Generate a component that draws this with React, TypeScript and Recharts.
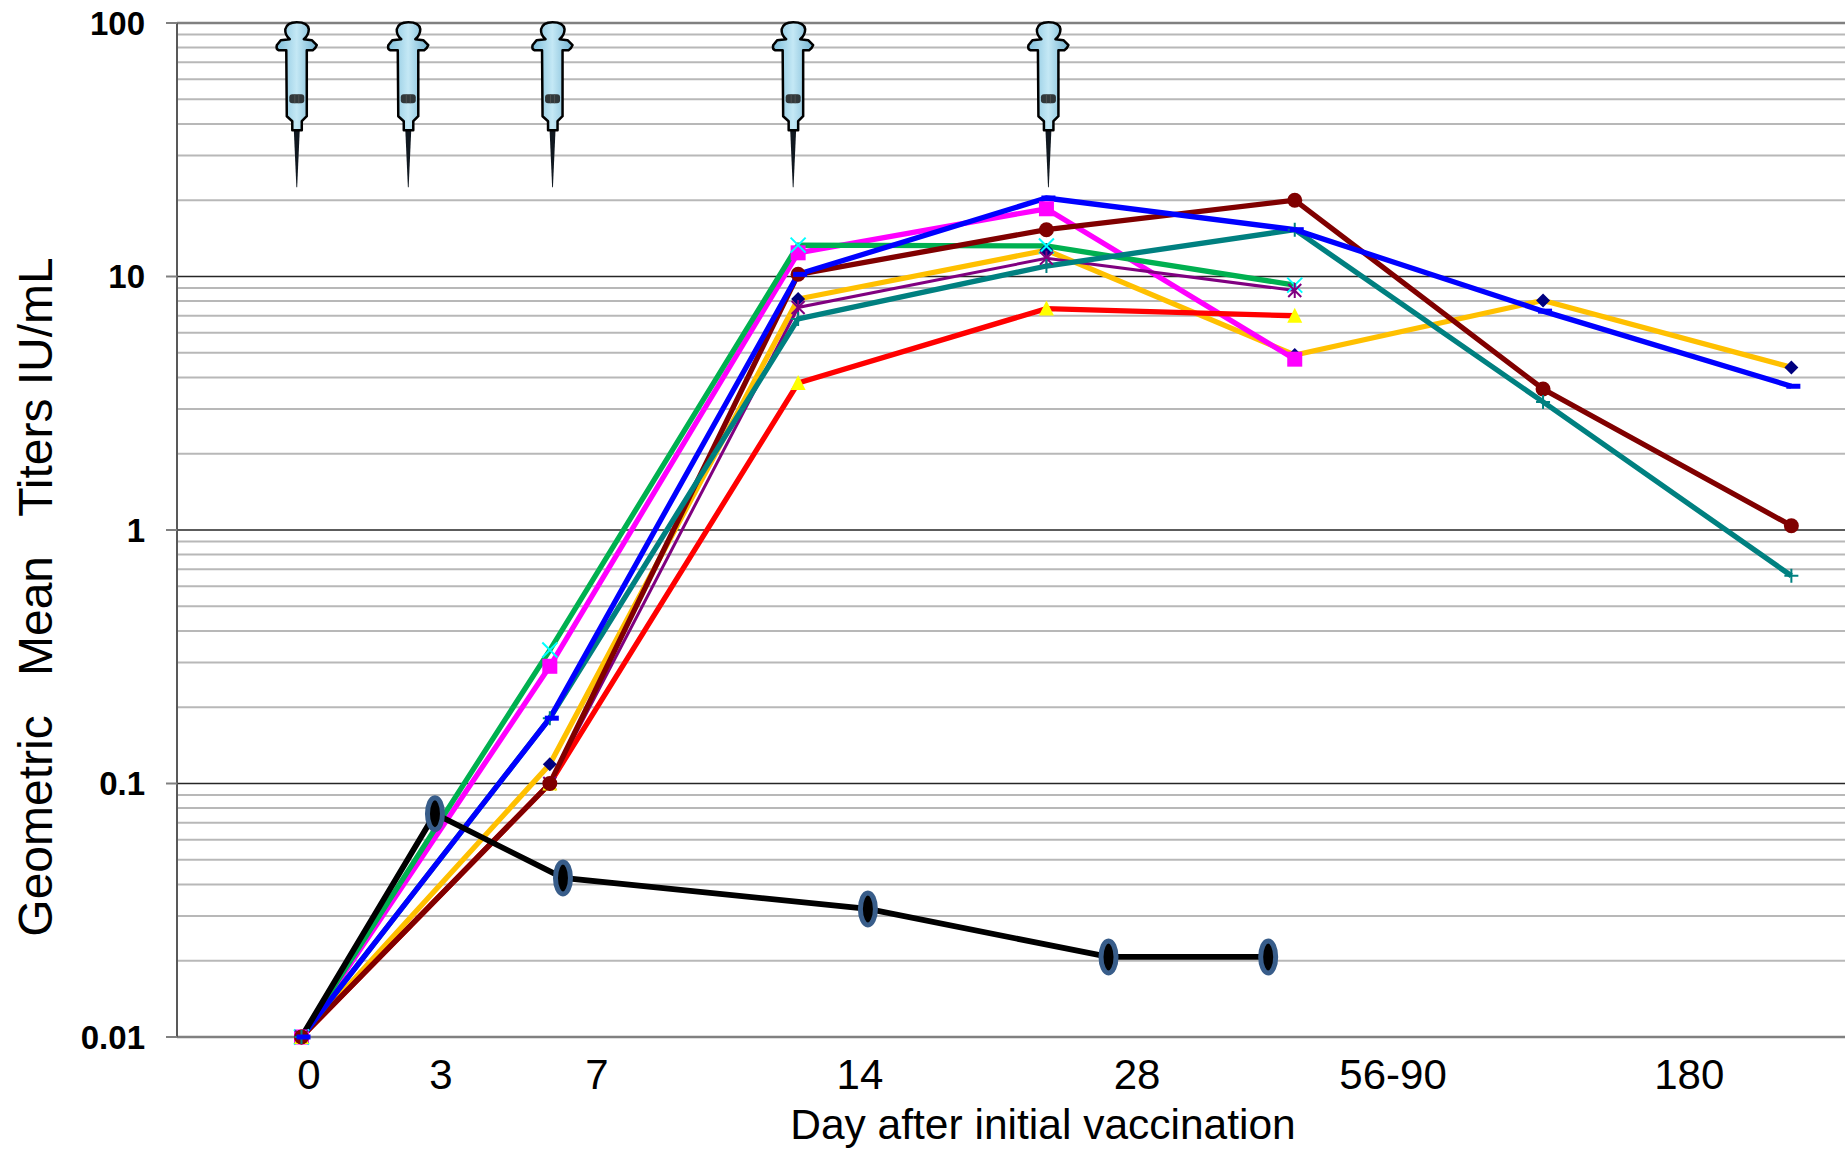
import { CartesianGrid, Line, LineChart, XAxis, YAxis } from "recharts";

const FONT = "'Liberation Sans', Arial, sans-serif";

// x runs in category slots: 0 is the "0" sampling point, 1 slot = one sampling interval
const samplingSlots = [0, 1, 2, 3, 4, 5, 6];

const greenTiters = [0.01, 0.336, 13.3, 13.2, 9.25];
const magentaTiters = [0.01, 0.29, 12.4, 18.5, 4.72];
const blueTiters = [0.01, 0.181, 10.2, 20.4, 15.3, 7.3, 3.69];
const tealTiters = [0.01, 0.181, 6.8, 11, 15.3, 3.2, 0.66];
const orangeTiters = [0.01, 0.119, 8.15, 12.7, 4.9, 8.05, 4.38];
const purpleTiters = [0.01, 0.1, 7.55, 11.8, 8.8];
const maroonTiters = [0.01, 0.1, 10.2, 15.3, 20, 3.6, 1.04];
const redTiters = [0.01, 0.1, 3.8, 7.47, 7.0];

// the control group was drawn by hand, off the slots
const controlSlots = [0, 0.5375, 1.053, 2.281, 3.25, 3.893];
const controlTiters = [0.01, 0.076, 0.0424, 0.032, 0.0207, 0.0207];

const syringeSlots = [-0.019, 0.43, 1.011, 1.98, 3.008];
const syringeTipTiter = 22.5;

const majorTicks = [0.01, 0.1, 1, 10, 100];
const innerMajorTicks = [0.1, 1, 10];
const topTick = [100];
const minorTicks = [
  0.02, 0.03, 0.04, 0.05, 0.06, 0.07, 0.08, 0.09,
  0.2, 0.3, 0.4, 0.5, 0.6, 0.7, 0.8, 0.9,
  2, 3, 4, 5, 6, 7, 8, 9,
  20, 30, 40, 50, 60, 70, 80, 90,
];
const dayTickSlots = [0.03, 0.562, 1.19, 2.249, 3.365, 4.396, 5.589];
const dayTickLabels = ["0", "3", "7", "14", "28", "56-90", "180"];

const zip = (xs: number[], ys: number[]) => ys.map((y, i) => ({ x: xs[i], y }));

type DotProps = { cx?: number; cy?: number; index?: number };

const cross = (color: string) => ({ cx = 0, cy = 0, index }: DotProps) => (
  <path key={index} d={`M${cx - 7.5} ${cy - 7.5}L${cx + 7.5} ${cy + 7.5}M${cx - 7.5} ${cy + 7.5}L${cx + 7.5} ${cy - 7.5}`} stroke={color} strokeWidth={2} fill="none" />
);
const square = (color: string) => ({ cx = 0, cy = 0, index }: DotProps) => (
  <rect key={index} x={cx - 7.5} y={cy - 7.5} width={15} height={15} fill={color} />
);
const dash = (color: string) => ({ cx = 0, cy = 0, index }: DotProps) => (
  <rect key={index} x={cx - 5} y={cy - 2.5} width={14} height={5} fill={color} />
);
const plus = (color: string) => ({ cx = 0, cy = 0, index }: DotProps) => (
  <path key={index} d={`M${cx - 7} ${cy}H${cx + 7}M${cx} ${cy - 7}V${cy + 7}`} stroke={color} strokeWidth={2} fill="none" />
);
const diamond = (color: string) => ({ cx = 0, cy = 0, index }: DotProps) => (
  <path key={index} d={`M${cx} ${cy - 7}L${cx + 7} ${cy}L${cx} ${cy + 7}L${cx - 7} ${cy}Z`} fill={color} />
);
const asterisk = (color: string) => ({ cx = 0, cy = 0, index }: DotProps) => (
  <path key={index} d={`M${cx - 6.5} ${cy - 6.5}L${cx + 6.5} ${cy + 6.5}M${cx - 6.5} ${cy + 6.5}L${cx + 6.5} ${cy - 6.5}M${cx} ${cy - 7.5}V${cy + 7.5}`} stroke={color} strokeWidth={2} fill="none" />
);
const circle = (color: string) => ({ cx = 0, cy = 0, index }: DotProps) => (
  <circle key={index} cx={cx} cy={cy} r={7.5} fill={color} />
);
const triangle = (color: string) => ({ cx = 0, cy = 0, index }: DotProps) => (
  <path key={index} d={`M${cx} ${cy - 8}L${cx + 7.5} ${cy + 7}L${cx - 7.5} ${cy + 7}Z`} fill={color} />
);
const oval = ({ cx = 0, cy = 0, index }: DotProps) =>
  index === 0 ? (
    <g key={index} />
  ) : (
    <ellipse key={index} cx={cx} cy={cy} rx={7.5} ry={16} fill="#000" stroke="#385d8a" strokeWidth={5} />
  );

function Syringe({ cx = 0, cy = 0, index }: DotProps) {
  return (
    <g key={index} transform={`translate(${cx} ${cy})`}>
      <path d="M-3 -58L3 -58L0.4 0L-0.4 0Z" fill="#101820" />
      <path
        d="M-4.5 -57L-4.5 -66L-10 -71L-10.5 -137L-18 -137Q-21 -138 -20 -142L-16 -147L-7 -148Q-12 -152 -11.5 -158Q-10 -165 0 -165Q11 -165 12 -158Q12 -152 7 -148L15 -147L20 -142Q19 -139 16 -137L10 -137L10 -71L5 -66L5 -57Z"
        fill="url(#syringeGlass)"
        stroke="#000"
        strokeWidth={2.5}
        strokeLinejoin="round"
      />
      <rect x={-7.5} y={-93} width={15} height={9} rx={3} fill="#1a1a1a" opacity={0.85} />
      <path d="M-2 -93V-84M2 -93V-84" stroke="#555" strokeWidth={0.8} />
    </g>
  );
}

// the axis title is three loose text boxes in the original
function YTitle() {
  const words: [string, number][] = [
    ["Geometric", 826],
    ["Mean", 616],
    ["Titers IU/mL", 387],
  ];
  return (
    <g>
      {words.map(([word, y]) => (
        <text key={word} transform={`translate(52 ${y}) rotate(-90)`} textAnchor="middle" fontFamily={FONT} fontSize={48} fill="#000">
          {word}
        </text>
      ))}
    </g>
  );
}

export default function App() {
  return (
    <div style={{ position: "absolute", left: 0, top: 0, width: 1845, height: 1154, overflow: "hidden", background: "#fff" }}>
      <style>{"body{margin:0;overflow:hidden}"}</style>
      <LineChart width={1845} height={1154} margin={{ left: 0, right: 0, top: 23, bottom: 0 }}>
        <defs>
          <linearGradient id="syringeGlass" x1="0" x2="1" y1="0" y2="0">
            <stop offset="0" stopColor="#7fbfdb" />
            <stop offset="0.5" stopColor="#c4e8f5" />
            <stop offset="1" stopColor="#74b4d2" />
          </linearGradient>
        </defs>
        <CartesianGrid horizontal vertical={false} horizontalValues={minorTicks} stroke="#b8b8b8" strokeWidth={2} />
        <CartesianGrid horizontal vertical={false} horizontalValues={innerMajorTicks} stroke="#262626" strokeWidth={1.5} />
        <CartesianGrid horizontal vertical={false} horizontalValues={topTick} stroke="#808080" strokeWidth={2.5} />
        <XAxis
          type="number" dataKey="x" domain={[-0.5014, 6.216]}
          ticks={dayTickSlots} interval={0} height={117}
          tickFormatter={(_: number, i: number) => dayTickLabels[i]}
          tickLine={false} tickMargin={16}
          axisLine={{ stroke: "#808080", strokeWidth: 2.5 }}
          tick={{ fill: "#000", fontSize: 42, fontFamily: FONT }}
          label={{ value: "Day after initial vaccination", position: "insideBottom", offset: 15, dx: 32, fill: "#000", fontSize: 42.5, fontFamily: FONT }}
        />
        <YAxis
          type="number" scale="log" domain={[0.01, 100]} ticks={majorTicks} interval={0} width={177}
          tickFormatter={(v: number) => String(v)}
          tickSize={11} tickMargin={21}
          axisLine={{ stroke: "#595959", strokeWidth: 2 }}
          tickLine={{ stroke: "#808080", strokeWidth: 2 }}
          tick={{ fill: "#000", fontSize: 33, fontWeight: 700, fontFamily: FONT }}
          label={<YTitle />}
        />
        <Line data={zip(syringeSlots, syringeSlots.map(() => syringeTipTiter))} dataKey="y" stroke="none" dot={Syringe} isAnimationActive={false} />
        <Line data={zip(samplingSlots, orangeTiters)} dataKey="y" stroke="#ffc000" strokeWidth={5.3} dot={diamond("#000080")} isAnimationActive={false} />
        <Line data={zip(samplingSlots, magentaTiters)} dataKey="y" stroke="#ff00ff" strokeWidth={5.3} dot={square("#ff00ff")} isAnimationActive={false} />
        <Line data={zip(samplingSlots, greenTiters)} dataKey="y" stroke="#00b050" strokeWidth={5.3} dot={cross("#00ffff")} isAnimationActive={false} />
        <Line data={zip(samplingSlots, purpleTiters)} dataKey="y" stroke="#800080" strokeWidth={3} dot={asterisk("#800080")} isAnimationActive={false} />
        <Line data={zip(samplingSlots, redTiters)} dataKey="y" stroke="#ff0000" strokeWidth={5.3} dot={triangle("#ffff00")} isAnimationActive={false} />
        <Line data={zip(samplingSlots, maroonTiters)} dataKey="y" stroke="#800000" strokeWidth={5.3} dot={circle("#800000")} isAnimationActive={false} />
        <Line data={zip(samplingSlots, tealTiters)} dataKey="y" stroke="#008080" strokeWidth={5.3} dot={plus("#008080")} isAnimationActive={false} />
        <Line data={zip(samplingSlots, blueTiters)} dataKey="y" stroke="#0000ff" strokeWidth={5.3} dot={dash("#0000ff")} isAnimationActive={false} />
        <Line data={zip(controlSlots, controlTiters)} dataKey="y" stroke="#000" strokeWidth={5.8} dot={oval} isAnimationActive={false} />
      </LineChart>
    </div>
  );
}
